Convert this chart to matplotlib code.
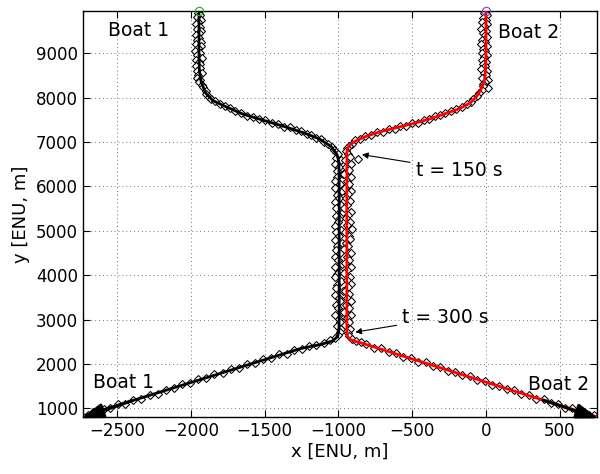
import matplotlib
matplotlib.use("Agg")
import matplotlib.pyplot as plt

plt.rcParams['font.family'] = ['DejaVu Sans']

# true tracks (black = boat 1, red = boat 2)
b1_path_x = [-1945, -1945, -1942, -1930, -1900, -1850, -1780, -1650, -1500, -1350, -1230, -1130, -1050,
             -1010, -997, -995, -995, -997, -1005, -1040, -1120, -1260, -1600, -2000, -2400, -2700]
b1_path_y = [9955, 9000, 8600, 8350, 8100, 7930, 7820, 7630, 7480, 7330, 7200, 7070, 6900,
             6720, 6550, 6000, 3000, 2750, 2620, 2520, 2440, 2345, 1995, 1583, 1171, 862]

b2_path_x = [0, 0, -5, -15, -35, -65, -106, -180, -265, -380, -493, -610, -721, -810,
             -875, -920, -940, -943, -943, -940, -925, -890, -864, -600, -300, 103, 400, 745]
b2_path_y = [9955, 9000, 8500, 8330, 8170, 8020, 7880, 7750, 7650, 7520, 7414, 7320, 7225, 7130,
             7038, 6940, 6850, 6750, 2750, 2640, 2560, 2515, 2493, 2218, 1905, 1484, 1174, 815]

# estimated positions (diamonds)
b1_est_top = [(-1945, 9950), (-1952, 9902), (-1938, 9851), (-1960, 9806), (-1934, 9748), (-1950, 9703),
              (-1966, 9655), (-1940, 9598), (-1957, 9552), (-1930, 9497), (-1948, 9451), (-1968, 9404),
              (-1942, 9347), (-1955, 9301), (-1933, 9255), (-1963, 9198), (-1928, 9152), (-1950, 9105),
              (-1970, 9047), (-1941, 9003), (-1958, 8951), (-1927, 8897), (-1962, 8852), (-1947, 8806),
              (-1935, 8748), (-1967, 8701), (-1939, 8655), (-1956, 8598), (-1925, 8553), (-1951, 8505),
              (-1960, 8448), (-1936, 8402), (-1944, 8350)]
b1_est_turn = [(-1925, 8290), (-1915, 8230), (-1900, 8150), (-1895, 8080), (-1878, 8020), (-1860, 7960),
               (-1835, 7915), (-1800, 7850), (-1770, 7800), (-1735, 7765), (-1700, 7700), (-1660, 7660),
               (-1620, 7590), (-1580, 7560), (-1540, 7510), (-1495, 7490), (-1450, 7420), (-1410, 7395),
               (-1370, 7345), (-1330, 7330), (-1290, 7265), (-1255, 7240), (-1215, 7180), (-1185, 7150),
               (-1150, 7085), (-1120, 7060), (-1095, 7000), (-1070, 6950), (-1045, 6890), (-1030, 6830),
               (-1015, 6770)]
b1_est_mid = [(-1005, 6720), (-1018, 6648), (-985, 6583), (-1022, 6502), (-995, 6431), (-1012, 6352),
              (-972, 6268), (-1008, 6203), (-1020, 6119), (-990, 6042), (-1024, 5961), (-978, 5888),
              (-1010, 5812), (-998, 5731), (-1025, 5649), (-984, 5578), (-1015, 5502), (-968, 5421),
              (-1019, 5338), (-993, 5272), (-1006, 5189), (-1023, 5111), (-980, 5028), (-1014, 4962),
              (-997, 4879), (-1021, 4801), (-974, 4718), (-1009, 4652), (-1017, 4569), (-988, 4491),
              (-1024, 4408), (-1002, 4341), (-979, 4259), (-1020, 4182), (-994, 4098), (-1011, 4031),
              (-1025, 3948), (-983, 3872), (-1007, 3789), (-1016, 3721), (-970, 3638), (-1022, 3562),
              (-999, 3479), (-988, 3412), (-1018, 3328), (-1004, 3251), (-977, 3169), (-1021, 3102),
              (-996, 3018), (-990, 2941), (-1012, 2858), (-982, 2789)]
b1_est_low = [(-990, 2720), (-1005, 2650), (-1025, 2580), (-1060, 2530), (-1100, 2480), (-1150, 2430),
              (-1200, 2395), (-1250, 2345), (-1300, 2320), (-1350, 2235), (-1400, 2220), (-1455, 2128),
              (-1510, 2105), (-1565, 2015), (-1620, 1992), (-1675, 1902), (-1730, 1880), (-1785, 1790),
              (-1840, 1765), (-1895, 1676), (-1950, 1652), (-2005, 1562), (-2060, 1540), (-2115, 1450),
              (-2170, 1425), (-2225, 1335), (-2280, 1312), (-2335, 1222), (-2390, 1198), (-2445, 1110),
              (-2495, 1090), (-2545, 1005), (-2590, 990), (-2630, 920), (-2665, 912), (-2700, 848),
              (-2728, 800)]

b2_est_top = [(0, 9950), (-12, 9898), (5, 9853), (-20, 9801), (-3, 9752), (-28, 9698), (8, 9651),
              (-15, 9603), (-32, 9549), (2, 9502), (-22, 9455), (-8, 9398), (10, 9352), (-25, 9305),
              (-5, 9248), (-34, 9201), (4, 9153), (-18, 9098), (-10, 9052), (-30, 9004), (6, 8949),
              (-14, 8902), (-26, 8851), (1, 8805), (-20, 8747), (-6, 8703), (-33, 8652), (9, 8598),
              (-16, 8551), (-2, 8503), (-28, 8449), (12, 8397), (-10, 8352), (-22, 8301), (11, 8213)]
b2_est_turn = [(-20, 8260), (-30, 8180), (-50, 8110), (-60, 8040), (-85, 7975), (-100, 7900),
               (-130, 7855), (-160, 7790), (-200, 7745), (-235, 7690), (-275, 7660), (-310, 7600),
               (-345, 7575), (-385, 7510), (-420, 7495), (-460, 7430), (-500, 7420), (-540, 7365),
               (-580, 7355), (-620, 7300), (-660, 7290), (-700, 7230), (-740, 7220), (-780, 7150),
               (-820, 7140), (-855, 7060), (-885, 7035), (-910, 6960), (-930, 6920), (-945, 6860),
               (-864, 6626), (-950, 6800)]
b2_est_mid = [(-938, 6735), (-922, 6662), (-955, 6590), (-915, 6511), (-946, 6437), (-928, 6360),
              (-962, 6281), (-918, 6209), (-940, 6131), (-925, 6050), (-958, 5972), (-912, 5899),
              (-935, 5821), (-950, 5739), (-920, 5661), (-944, 5587), (-964, 5511), (-916, 5430),
              (-932, 5352), (-952, 5279), (-924, 5198), (-940, 5121), (-911, 5039), (-957, 4970),
              (-930, 4889), (-919, 4810), (-948, 4729), (-936, 4661), (-961, 4580), (-914, 4500),
              (-942, 4419), (-927, 4350), (-953, 4270), (-917, 4191), (-939, 4109), (-960, 4040),
              (-921, 3959), (-945, 3881), (-913, 3800), (-934, 3729), (-956, 3649), (-926, 3570),
              (-943, 3490), (-918, 3421), (-950, 3339), (-931, 3260), (-962, 3180), (-915, 3111),
              (-940, 3029), (-928, 2950), (-954, 2869), (-920, 2795)]
b2_est_low = [(-935, 2700), (-925, 2620), (-905, 2560), (-880, 2515), (-850, 2485), (-810, 2455),
              (-760, 2368), (-710, 2350), (-660, 2262), (-610, 2245), (-560, 2158), (-510, 2142),
              (-460, 2055), (-410, 2037), (-360, 1950), (-310, 1932), (-260, 1846), (-210, 1828),
              (-160, 1742), (-110, 1724), (-60, 1637), (-10, 1620), (40, 1533), (90, 1515),
              (140, 1429), (190, 1411), (240, 1324), (290, 1306), (340, 1220), (390, 1202),
              (440, 1116), (490, 1098), (535, 1018), (580, 1003), (620, 930), (660, 918),
              (700, 848), (730, 845), (755, 795)]

# end-of-track arrows (tail, tip)
b1_arrow = [(-2400, 1171), (-2742, 778)]
b2_arrow = [(386, 1188), (762, 776)]

x_ticks = [-2500, -2000, -1500, -1000, -500, 0, 500]
y_ticks = [1000, 2000, 3000, 4000, 5000, 6000, 7000, 8000, 9000]

fig = plt.figure(figsize=(6, 4.74), dpi=100)
ax = fig.add_axes([0.138, 0.1196, 0.857, 0.8578])

b1_est = b1_est_top + b1_est_turn + b1_est_mid + b1_est_low
b2_est = b2_est_top + b2_est_turn + b2_est_mid + b2_est_low

for est in (b1_est, b2_est):
    ax.plot([p[0] for p in est], [p[1] for p in est], linestyle='none', marker='D',
            markersize=4.3, markerfacecolor='white', markeredgecolor='black',
            markeredgewidth=0.75, zorder=2)

ax.plot(b1_path_x, b1_path_y, color='black', lw=2, zorder=3)
ax.plot(b2_path_x, b2_path_y, color='red', lw=2, zorder=3)

# start markers
ax.plot(b1_path_x[0], b1_path_y[0], 'o', ms=6, mfc='none', mec='#22aa22', mew=0.8, zorder=4, clip_on=False)
ax.plot(b2_path_x[0], b2_path_y[0], 'o', ms=6, mfc='none', mec='#7744cc', mew=0.8, zorder=4, clip_on=False)

for arr in (b1_arrow, b2_arrow):
    ax.annotate("", xy=arr[1], xytext=arr[0], annotation_clip=False,
                arrowprops=dict(arrowstyle='-|>,head_length=0.65,head_width=0.22',
                                color='black', lw=2.2, mutation_scale=20, shrinkA=0, shrinkB=0),
                zorder=5)

# labels
ax.text(-2559, 9500, "Boat 1", fontsize=13.5, va='center', ha='left')
ax.text(79, 9471, "Boat 2", fontsize=13.5, va='center', ha='left')
ax.text(-2660, 1574, "Boat 1", fontsize=13.5, va='center', ha='left')
ax.text(284, 1545, "Boat 2", fontsize=13.5, va='center', ha='left')

ax.annotate("t = 150 s", xy=(-841, 6716), xytext=(-477, 6363), fontsize=13.5, va='center', ha='left',
            arrowprops=dict(arrowstyle='-|>', color='black', lw=0.8, mutation_scale=9,
                            shrinkA=2, shrinkB=0))
ax.annotate("t = 300 s", xy=(-886, 2717), xytext=(-568, 3054), fontsize=13.5, va='center', ha='left',
            arrowprops=dict(arrowstyle='-|>', color='black', lw=0.8, mutation_scale=9,
                            shrinkA=2, shrinkB=0))

ax.set_xlim(-2732, 752)
ax.set_ylim(800, 9955)
ax.set_xticks(x_ticks)
ax.set_yticks(y_ticks)
ax.grid(True, linestyle=(0, (1, 3)), color='0.45', lw=0.7)
ax.set_axisbelow(True)
ax.tick_params(direction='in', top=True, right=True, length=5, width=0.8, labelsize=12)
for s in ax.spines.values():
    s.set_linewidth(1)

ax.set_xlabel("x [ENU, m]", fontsize=13, labelpad=2)
ax.set_ylabel("y [ENU, m]", fontsize=13, labelpad=4)

fig.savefig("out.png", dpi=100)
